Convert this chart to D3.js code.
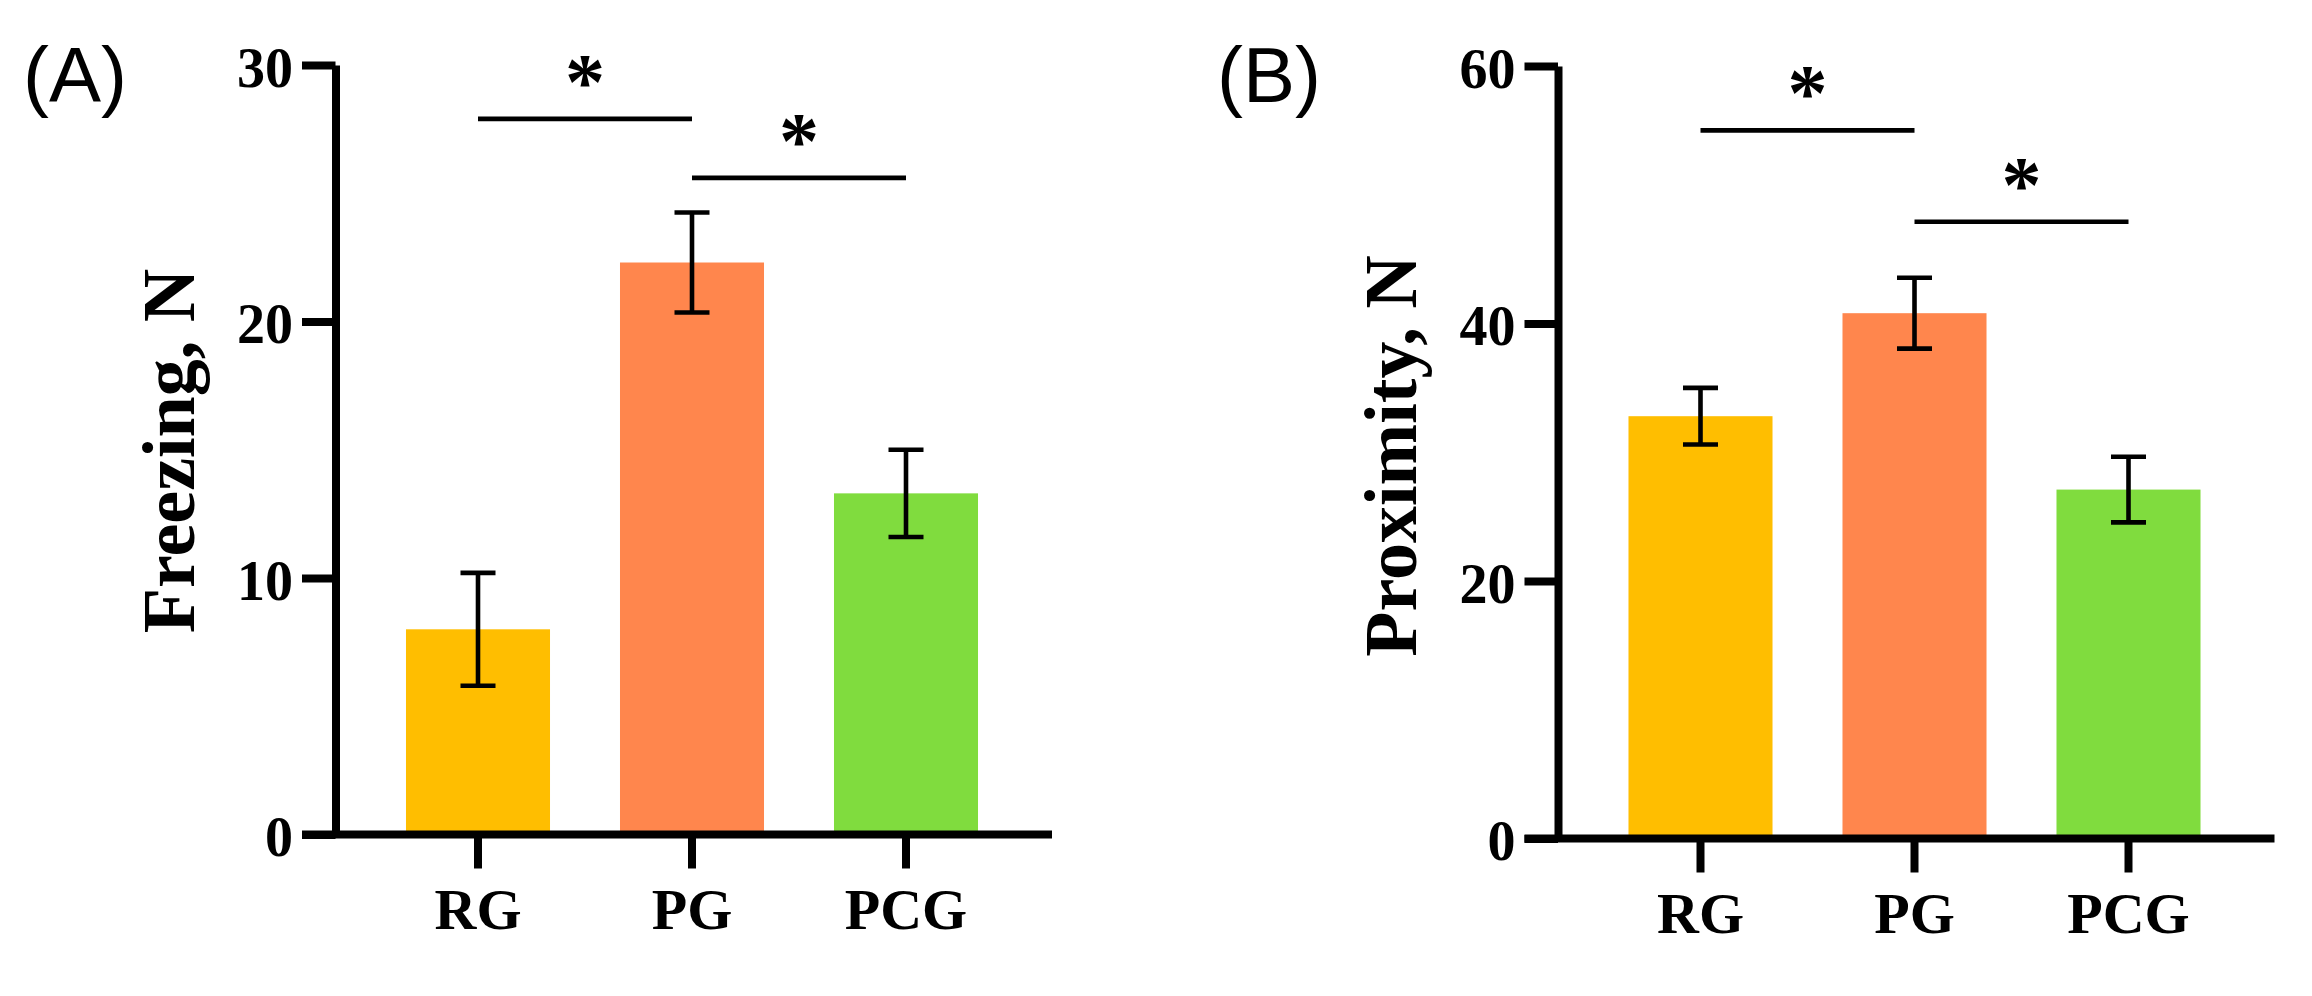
<!DOCTYPE html>
<html>
<head>
<meta charset="utf-8">
<script src="https://cdn.jsdelivr.net/npm/d3@7"></script>
<style>
  body { margin: 0; background: #fff; }
</style>
</head>
<body>
<div id="chart"></div>
<script>
// values
const groups = ["RG", "PG", "PCG"];

const freezingMean = [8.0, 22.3, 13.3];
const freezingErr = [2.2, 1.95, 1.7];
const freezingTicks = [0, 10, 20, 30];
const freezingSig = [
  { from: "RG", to: "PG", level: 27.9 },
  { from: "PG", to: "PCG", level: 25.6 }
];

const proximityMean = [32.8, 40.8, 27.1];
const proximityErr = [2.2, 2.75, 2.55];
const proximityTicks = [0, 20, 40, 60];
const proximitySig = [
  { from: "RG", to: "PG", level: 55.0 },
  { from: "PG", to: "PCG", level: 47.9 }
];

const serif = "'Liberation Serif', 'Times New Roman', serif";
const sans = "'Liberation Sans', Arial, sans-serif";
const color = d3.scaleOrdinal().domain(groups).range(["#FFBE00", "#FF864D", "#80DC3E"]);

const svg = d3.select("#chart")
  .append("svg")
  .attr("width", 2312)
  .attr("height", 996)
  .style("background", "#fff");

function drawPanel(cfg) {
  const g = svg.append("g").attr("transform", `translate(${cfg.left},0)`);

  const y = d3.scaleLinear()
    .domain([0, d3.max(cfg.ticks)])
    .range([cfg.bottom, cfg.top]);

  const x = d3.scaleBand()
    .domain(groups)
    .range([35.5, 677.5])
    .paddingInner(0.327)
    .paddingOuter(0.1635);

  const rows = groups.map((k, i) => ({ key: k, mean: cfg.mean[i], err: cfg.err[i] }));

  // bars
  g.selectAll("rect.bar")
    .data(rows)
    .join("rect")
    .attr("class", "bar")
    .attr("x", d => x(d.key))
    .attr("width", x.bandwidth())
    .attr("y", d => y(d.mean))
    .attr("height", d => y(0) - y(d.mean))
    .attr("fill", d => color(d.key));

  // error bars
  const cx = d => x(d.key) + x.bandwidth() / 2;
  const eb = g.selectAll("g.err").data(rows).join("g").attr("class", "err")
    .attr("stroke", "#000").attr("stroke-width", 4.6);
  eb.append("line")
    .attr("x1", cx).attr("x2", cx)
    .attr("y1", d => y(d.mean + d.err)).attr("y2", d => y(d.mean - d.err));
  eb.append("line")
    .attr("x1", d => cx(d) - 17.5).attr("x2", d => cx(d) + 17.5)
    .attr("y1", d => y(d.mean + d.err)).attr("y2", d => y(d.mean + d.err));
  eb.append("line")
    .attr("x1", d => cx(d) - 17.5).attr("x2", d => cx(d) + 17.5)
    .attr("y1", d => y(d.mean - d.err)).attr("y2", d => y(d.mean - d.err));

  // y axis
  const yAxis = g.append("g")
    .call(d3.axisLeft(y).tickValues(cfg.ticks).tickSize(33.5).tickSizeOuter(0).tickPadding(9));
  yAxis.select(".domain").attr("stroke-width", 8);
  yAxis.selectAll(".tick line").attr("stroke-width", 8);
  yAxis.selectAll(".tick text")
    .attr("dy", "0.38em")
    .style("font-family", serif)
    .style("font-weight", "bold")
    .style("font-size", "56px")
    .attr("fill", "#000");

  // x axis
  const xAxis = g.append("g")
    .attr("transform", `translate(0,${cfg.bottom})`)
    .call(d3.axisBottom(x).tickSize(34).tickPadding(19.5));
  xAxis.select(".domain").remove();
  xAxis.selectAll(".tick line").attr("stroke-width", 8);
  xAxis.selectAll(".tick text")
    .style("font-family", serif)
    .style("font-weight", "bold")
    .style("font-size", "58px")
    .attr("fill", "#000");
  xAxis.append("line")
    .attr("x1", -33.5).attr("x2", 716.5)
    .attr("y1", 0).attr("y2", 0)
    .attr("stroke", "#000").attr("stroke-width", 8);

  // significance brackets
  const sig = g.selectAll("g.sig").data(cfg.sig).join("g").attr("class", "sig");
  const mid = k => x(k) + x.bandwidth() / 2;
  sig.append("line")
    .attr("x1", d => mid(d.from)).attr("x2", d => mid(d.to))
    .attr("y1", d => y(d.level)).attr("y2", d => y(d.level))
    .attr("stroke", "#000").attr("stroke-width", 4.6);
  sig.append("text")
    .attr("x", d => (mid(d.from) + mid(d.to)) / 2)
    .attr("y", d => y(d.level) - 10)
    .attr("text-anchor", "middle")
    .style("font-family", serif)
    .style("font-weight", "bold")
    .style("font-size", "80px")
    .text("*");

  // y title
  g.append("text")
    .attr("transform", `translate(${cfg.titleX},${cfg.titleY}) rotate(-90)`)
    .attr("text-anchor", "middle")
    .style("font-family", serif)
    .style("font-weight", "bold")
    .style("font-size", "74px")
    .text(cfg.title);

  // panel letter
  g.append("text")
    .attr("x", cfg.letterX)
    .attr("y", 102)
    .style("font-family", sans)
    .style("font-size", "78px")
    .text(cfg.letter);
}

drawPanel({
  left: 335.5, top: 65, bottom: 834.5,
  ticks: freezingTicks, mean: freezingMean, err: freezingErr, sig: freezingSig,
  title: "Freezing, N", titleX: -141.5, titleY: 451,
  letter: "(A)", letterX: -312.5
});

drawPanel({
  left: 1558, top: 66, bottom: 838.5,
  ticks: proximityTicks, mean: proximityMean, err: proximityErr, sig: proximitySig,
  title: "Proximity, N", titleX: -142, titleY: 456,
  letter: "(B)", letterX: -341
});
</script>
</body>
</html>
